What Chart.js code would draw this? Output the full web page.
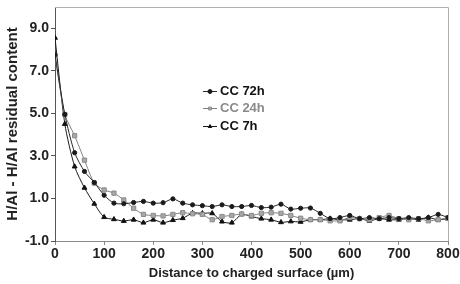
<!DOCTYPE html>
<html><head><meta charset="utf-8">
<script src="https://cdn.jsdelivr.net/npm/chart.js@4.4.1/dist/chart.umd.min.js"></script>
<style>html,body{margin:0;padding:0;background:#fff}#wrap{width:460px;height:284px;position:relative}</style>
</head><body><div id="wrap"><canvas id="c" width="460" height="284"></canvas></div>
<script>
const distances = [0,20,40,60,80,100,120,140,160,180,200,220,240,260,280,300,320,340,360,380,400,420,440,460,480,500,520,540,560,580,600,620,640,660,680,700,720,740,760,780,800];
const cc72 = [7.75,4.95,3.15,2.27,1.75,1.15,0.78,0.75,0.81,0.86,0.78,0.80,0.98,0.78,0.70,0.66,0.62,0.70,0.62,0.62,0.67,0.57,0.59,0.73,0.50,0.54,0.55,0.30,0.05,0.10,0.20,0.05,0.10,0.05,0.10,0.05,0.10,0.05,0.10,0.25,0.10];
const cc24 = [7.70,4.95,3.95,2.80,1.72,1.40,1.25,0.93,0.54,0.25,0.20,0.18,0.25,0.33,0.28,0.25,0.00,0.15,0.20,0.27,0.20,0.30,0.33,0.30,0.20,0.07,0.00,0.00,-0.05,-0.05,0.10,0.05,0.00,0.10,0.20,0.05,0.00,0.05,-0.05,0.00,0.10];
const cc7  = [8.55,4.50,2.50,1.50,0.75,0.12,0.02,-0.06,0.00,-0.14,0.00,-0.14,-0.02,0.07,0.31,0.30,0.30,-0.09,-0.14,0.25,0.15,0.05,0.00,-0.12,-0.08,-0.10,0.00,0.00,0.05,0.00,0.00,0.05,-0.05,0.05,0.00,0.00,0.05,0.00,0.10,0.00,0.05];
const seriesLabels = ['CC 72h','CC 24h','CC 7h'];
const yTicks = [-1,1,3,5,7,9];
const xTicks = [0,100,200,300,400,500,600,700,800];

const pts = arr => distances.map((d,i)=>({x:d,y:arr[i]}));

const frame = {
  id:'frame',
  beforeDatasetsDraw(chart){
    const {ctx, chartArea:a} = chart;
    ctx.save();
    ctx.strokeStyle = '#b0b0b0'; ctx.lineWidth = 1;
    ctx.beginPath();
    ctx.moveTo(a.left, a.top+0.5); ctx.lineTo(a.right+0.5, a.top+0.5); ctx.lineTo(a.right+0.5, a.bottom);
    ctx.stroke();
    ctx.restore();
  }
};

const legendBox = {
  id:'legendBox',
  afterDatasetsDraw(chart){
    const {ctx} = chart;
    const rows = [91, 108, 126];
    ctx.save();
    chart.data.datasets.forEach((ds,i)=>{
      const y = rows[i];
      ctx.strokeStyle = ds.borderColor; ctx.lineWidth = 1;
      ctx.beginPath(); ctx.moveTo(203,y+0.5); ctx.lineTo(217,y+0.5); ctx.stroke();
      ctx.fillStyle = ds.pointBackgroundColor; ctx.strokeStyle = ds.pointBorderColor; ctx.lineWidth = 1;
      Chart.helpers.drawPoint(ctx, {pointStyle: ds.pointStyle, radius: 2, borderWidth: 1}, 210, y+0.5);
      ctx.font = 'bold 13px "Liberation Sans", Arial, sans-serif';
      ctx.fillStyle = ds.legendColor; ctx.textBaseline = 'middle'; ctx.textAlign = 'left';
      ctx.fillText(ds.label, 220, y+0.5);
    });
    ctx.restore();
  }
};

new Chart(document.getElementById('c'), {
  type:'line',
  data:{ datasets:[
    {label:seriesLabels[0], data:pts(cc72), borderColor:'#2a2a2a', borderWidth:1, pointStyle:'circle', pointRadius:2.1, pointBackgroundColor:'#1a1a1a', pointBorderColor:'#1a1a1a', legendColor:'#111', tension:0.25},
    {label:seriesLabels[1], data:pts(cc24), borderColor:'#808080', borderWidth:1, pointStyle:'rect', pointRadius:3.0, pointBackgroundColor:'#a8a8a8', pointBorderColor:'#8a8a8a', legendColor:'#8a8a8a', tension:0.25},
    {label:seriesLabels[2], data:pts(cc7), borderColor:'#1a1a1a', borderWidth:1, pointStyle:'triangle', pointRadius:2.8, pointBackgroundColor:'#111', pointBorderColor:'#111', legendColor:'#111', tension:0.25}
  ]},
  options:{
    responsive:false, animation:false, devicePixelRatio:1,
    layout:{padding:{left:0,right:12,top:7,bottom:0}},
    plugins:{legend:{display:false}, tooltip:{enabled:false}},
    scales:{
      x:{type:'linear', min:0, max:800,
        afterBuildTicks(s){ s.ticks = xTicks.map(v=>({value:v})); },
        afterFit(s){ s.height = 43; s.paddingRight = 0; s.paddingLeft = 0; },
        grid:{drawOnChartArea:false, drawTicks:true, tickLength:4, color:'#888'},
        border:{display:true, color:'#888', width:1},
        ticks:{color:'#222', font:{family:'"Liberation Sans", Arial, sans-serif', size:14, weight:'bold'}, padding:1, maxRotation:0, autoSkip:false},
        title:{display:true, text:'Distance to charged surface (µm)', color:'#222', font:{family:'"Liberation Sans", Arial, sans-serif', size:13, weight:'bold'}, padding:{top:0,bottom:3}}
      },
      y:{type:'linear', min:-1, max:10,
        afterBuildTicks(s){ s.ticks = yTicks.map(v=>({value:v})); },
        afterFit(s){ s.width = 55; s.paddingTop = 0; s.paddingBottom = 0; },
        grid:{drawOnChartArea:false, drawTicks:true, tickLength:4, color:'#555'},
        border:{display:true, color:'#555', width:1},
        ticks:{color:'#222', font:{family:'"Liberation Sans", Arial, sans-serif', size:14, weight:'bold'}, padding:2, callback:v=>v.toFixed(1)},
        title:{display:true, text:'H/Al - H/Al residual content', color:'#222', font:{family:'"Liberation Sans", Arial, sans-serif', size:15, weight:'bold'}, padding:{top:4,bottom:0}}
      }
    }
  },
  plugins:[frame, legendBox]
});
</script></body></html>
